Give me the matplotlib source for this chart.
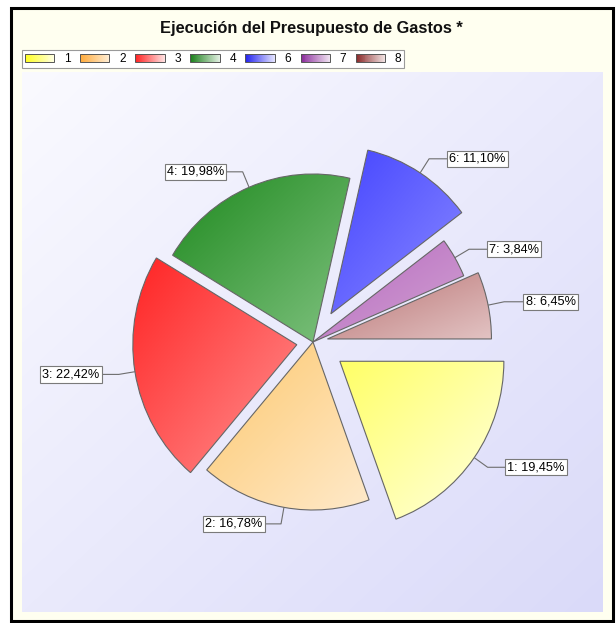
import numpy as np
import matplotlib
matplotlib.use('Agg')
import matplotlib.pyplot as plt
from matplotlib.patches import Rectangle
from matplotlib.legend_handler import HandlerBase
from matplotlib.colors import to_rgb

plt.rcParams['font.family'] = ['Liberation Sans', 'DejaVu Sans']

# ---- data ----
categories = ['1', '2', '3', '4', '6', '7', '8']
shares = [19.45, 16.78, 22.42, 19.98, 11.10, 3.84, 6.45]
label_texts = ['1: 19,45%', '2: 16,78%', '3: 22,42%', '4: 19,98%',
               '6: 11,10%', '7: 3,84%', '8: 6,45%']
title = 'Ejecución del Presupuesto de Gastos *'

# ---- style ----
explode = [0.2, 0.0, 0.1, 0.0, 0.2, 0.0, 0.09]
grad_start = ['#FFFF66', '#FDC86E', '#FF2424', '#1F8A1F', '#4444FF', '#B568BF', '#B97272']
grad_end = ['#FFFFE2', '#FFEACB', '#FF9090', '#80C280', '#8A8AFF', '#D3A3D3', '#E2C3C3']
legend_start = ['#FFFF22', '#FFAA3A', '#FF2222', '#1A7F1A', '#2222EE', '#8A2A9A', '#8A2A2A']
legend_end = ['#FFFFE0', '#FFEED6', '#FFE0E0', '#E0EEE0', '#E2E2FF', '#EEE0F0', '#F0E0E0']
label_x_px = [536, 234, 71, 195.5, 477.5, 514, 550.5]

W, H = 616, 623
PXX, PXY = 164.0, 168.0   # pixels per data unit (x, y)
CX, CY = 313, 342         # pie centre in pixels


def fx(px):
    return px / W


def fy(py):
    return 1 - py / H


def gradient_rgb(c0, c1, n=200):
    c0 = np.array(to_rgb(c0)); c1 = np.array(to_rgb(c1))
    X, Y = np.meshgrid(np.linspace(0, 1, n), np.linspace(0, 1, n))
    t = (X + (1 - Y)) / 2.0
    return c0[None, None, :] * (1 - t[..., None]) + c1[None, None, :] * t[..., None]


fig = plt.figure(figsize=(W / 100, H / 100), dpi=100, facecolor='white')
fig.add_artist(Rectangle((fx(11), fy(621)), (613 - 11) / W, (621 - 7.5) / H,
                         transform=fig.transFigure, facecolor='#FFFFF0',
                         edgecolor='black', lw=2.2, zorder=0))

ax = fig.add_axes([fx(22), fy(612), (603 - 22) / W, (612 - 72) / H])
ax.imshow(gradient_rgb('#FAFAFF', '#DADAF9'), extent=(0, 1, 0, 1),
          transform=ax.transAxes, origin='lower', aspect='auto', zorder=0,
          interpolation='bilinear')

wedges, _ = ax.pie(shares, explode=explode, startangle=0, counterclock=False,
                   radius=1, colors=grad_start,
                   wedgeprops=dict(edgecolor='#666666', linewidth=0.8,
                                   facecolor='none'))

for i, w in enumerate(wedges):
    w.set_zorder(3)
    ext = w.get_path().get_extents()
    im = ax.imshow(gradient_rgb(grad_start[i], grad_end[i]),
                   extent=(ext.x0, ext.x1, ext.y0, ext.y1), origin='lower',
                   aspect='auto', zorder=2, interpolation='bilinear')
    im.set_clip_path(w)

    m = np.deg2rad((w.theta1 + w.theta2) / 2.0)
    cx, cy = w.center
    ax0, ay0 = cx + w.r * np.cos(m), cy + w.r * np.sin(m)
    ex, ey = ax0 + 0.1 * np.cos(m), ay0 + 0.1 * np.sin(m)
    lx = (label_x_px[i] - CX) / PXX
    ax.plot([ax0, ex, lx], [ay0, ey, ey], color='#6E6E6E', lw=0.8,
            zorder=4, solid_capstyle='butt')
    ax.text(lx, ey, label_texts[i], ha='center', va='center',
            fontsize=9.2, color='black', zorder=5,
            bbox=dict(boxstyle='square,pad=0.17', facecolor='white',
                      edgecolor='#7A7A7A', linewidth=0.8))

ax.set_xlim((22 - CX) / PXX, (603 - CX) / PXX)
ax.set_ylim((CY - 612) / PXY, (CY - 72) / PXY)
ax.set_aspect('auto')
ax.axis('off')


class GradHandler(HandlerBase):
    def __init__(self, c0, c1):
        super().__init__()
        self.c0 = np.array(to_rgb(c0))
        self.c1 = np.array(to_rgb(c1))

    def create_artists(self, legend, orig_handle, xdescent, ydescent,
                       width, height, fontsize, trans):
        n = 30
        arts = []
        x0, y0 = -xdescent, -ydescent
        for k in range(n):
            t = k / (n - 1)
            arts.append(Rectangle((x0 + width * k / n, y0), width / n * 1.05,
                                  height, facecolor=self.c0 * (1 - t) + self.c1 * t,
                                  edgecolor='none', transform=trans))
        arts.append(Rectangle((x0, y0), width, height, facecolor='none',
                              edgecolor='#555555', lw=0.7, transform=trans))
        return arts


handles = [Rectangle((0, 0), 1, 1) for _ in categories]
hmap = {h: GradHandler(legend_start[i], legend_end[i]) for i, h in enumerate(handles)}
leg = fig.legend(handles, categories, loc='upper left',
                 bbox_to_anchor=(fx(22), fy(50)), bbox_transform=fig.transFigure,
                 ncol=7, frameon=True, fancybox=False, edgecolor='#9A9A9A',
                 facecolor='white', framealpha=1, fontsize=8.6,
                 handlelength=2.46, handleheight=0.62, handletextpad=0.8,
                 columnspacing=0.8, borderpad=0.25, borderaxespad=0,
                 handler_map=hmap)
leg.get_frame().set_linewidth(0.8)

fig.text(fx(311), fy(28), title, ha='center', va='center',
         fontsize=11.8, fontweight='bold', color='#111111')

fig.savefig('out.png', dpi=100, facecolor=fig.get_facecolor())
